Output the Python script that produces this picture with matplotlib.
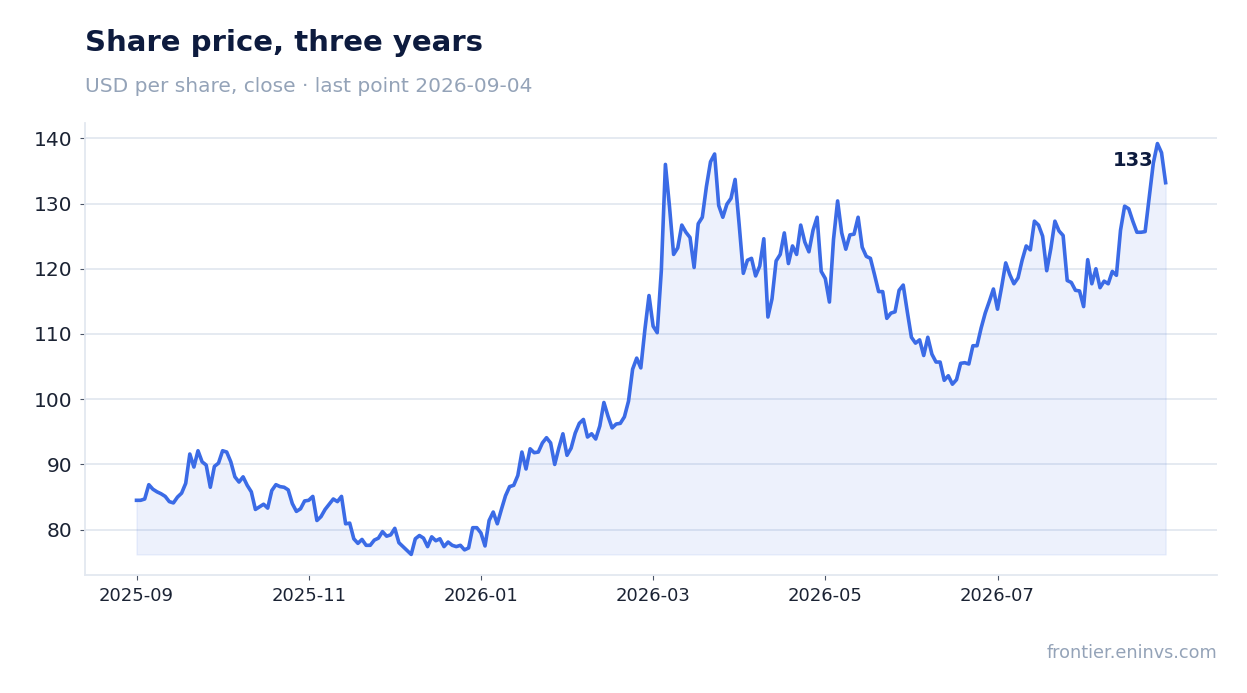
import matplotlib.pyplot as plt
from matplotlib.ticker import MultipleLocator
import numpy as np
import pandas as pd

plt.rcParams["font.family"] = "DejaVu Sans"

# daily closes (USD), one per trading day
close = [
    84.5, 84.5, 84.7, 86.9, 86.2, 85.8, 85.5, 85.1, 84.3, 84.1,
    85.0, 85.6, 87.1, 91.6, 89.6, 92.1, 90.4, 89.9, 86.5, 89.7,
    90.2, 92.1, 91.9, 90.4, 88.1, 87.3, 88.1, 86.8, 85.8, 83.1,
    83.5, 83.9, 83.3, 86.0, 86.9, 86.6, 86.5, 86.1, 84.0, 82.8,
    83.2, 84.4, 84.5, 85.1, 81.4, 82.0, 83.1, 83.9, 84.7, 84.3,
    85.1, 80.9, 81.0, 78.6, 77.9, 78.5, 77.6, 77.6, 78.4, 78.7,
    79.7, 79.0, 79.2, 80.2, 78.0, 77.4, 76.8, 76.2, 78.6, 79.1,
    78.7, 77.4, 78.9, 78.3, 78.6, 77.4, 78.1, 77.6, 77.4, 77.6,
    76.9, 77.2, 80.3, 80.3, 79.5, 77.5, 81.4, 82.7, 80.9, 83.1,
    85.2, 86.6, 86.8, 88.3, 91.9, 89.3, 92.4, 91.8, 91.9, 93.3,
    94.1, 93.3, 90.0, 92.5, 94.7, 91.4, 92.5, 94.8, 96.3, 96.9,
    94.2, 94.7, 93.9, 95.9, 99.5, 97.4, 95.6, 96.2, 96.3, 97.3,
    99.7, 104.6, 106.3, 104.8, 110.7, 115.9, 111.2, 110.2, 119.7, 136.0,
    129.5, 122.2, 123.2, 126.7, 125.6, 124.8, 120.2, 126.9, 127.9, 132.6,
    136.4, 137.6, 129.7, 127.9, 129.9, 130.8, 133.7, 126.7, 119.3, 121.3,
    121.6, 118.9, 120.4, 124.6, 112.6, 115.4, 121.2, 122.2, 125.5, 120.8,
    123.5, 122.2, 126.7, 124.1, 122.6, 125.9, 127.9, 119.6, 118.5, 114.9,
    124.5, 130.4, 125.5, 123.0, 125.2, 125.3, 127.9, 123.3, 121.9, 121.6,
    119.1, 116.5, 116.5, 112.4, 113.2, 113.4, 116.7, 117.5, 113.4, 109.5,
    108.6, 109.1, 106.7, 109.5, 106.9, 105.7, 105.7, 102.9, 103.6, 102.3,
    103.0, 105.5, 105.6, 105.4, 108.2, 108.2, 110.9, 113.2, 115.0, 116.9,
    113.8, 117.2, 120.9, 119.1, 117.7, 118.6, 121.3, 123.5, 122.9, 127.3,
    126.7, 125.0, 119.7, 123.1, 127.3, 125.8, 125.1, 118.2, 117.9, 116.7,
    116.6, 114.2, 121.4, 117.7, 120.0, 117.1, 118.1, 117.7, 119.6, 119.0,
    125.9, 129.6, 129.2, 127.3, 125.6, 125.6, 125.7, 131.0, 136.2, 139.2,
    137.8, 133.2,
]
last_date = "2026-09-04"
tick_every = 42  # one label every 42 trading days

BLUE = "#3b6be6"
NAVY = "#0d1b3e"
MUTED = "#94a3b8"
GRID = "#e3e8f0"

dates = pd.bdate_range(end=last_date, periods=len(close))
x = np.arange(len(close))
y = np.array(close)

fig = plt.figure(figsize=(12.47, 6.93), dpi=100)
ax = fig.add_axes([0.0682, 0.1703, 0.9078, 0.6522])

ax.fill_between(x, y, y.min(), color=BLUE, alpha=0.09, linewidth=1)
ax.plot(x, y, color=BLUE, linewidth=2.6, solid_joinstyle="round")

# last value label
ax.annotate(f"{y[-1]:.0f}", (x[-1], y[-1]), xytext=(-9, 16),
            textcoords="offset points", ha="right", va="center",
            fontsize=14, fontweight="bold", color=NAVY)

ticks = x[::tick_every]
ax.set_xticks(ticks)
ax.set_xticklabels(dates[ticks].strftime("%Y-%m"))
ax.yaxis.set_major_locator(MultipleLocator(10))

ax.grid(axis="y", color=GRID, linewidth=1.3)
ax.set_axisbelow(True)
for s in ["top", "right"]:
    ax.spines[s].set_visible(False)
for s in ["left", "bottom"]:
    ax.spines[s].set_color(GRID)
    ax.spines[s].set_linewidth(1.3)
ax.tick_params(axis="y", labelsize=14.5, color="#4a5568", labelcolor="#1a2233",
               length=3.5, pad=5.5)
ax.tick_params(axis="x", labelsize=13, color="#4a5568", labelcolor="#1a2233",
               length=3.5, pad=5.5)

fig.text(0.068, 0.958, "Share price, three years", fontsize=21,
         fontweight="bold", color=NAVY, va="top")
fig.text(0.068, 0.889, f"USD per share, close · last point {last_date}",
         fontsize=14.5, color=MUTED, va="top")
fig.text(0.976, 0.05, "frontier.eninvs.com", ha="right", fontsize=12.7, color=MUTED)

fig.savefig("out.png", dpi=100)
